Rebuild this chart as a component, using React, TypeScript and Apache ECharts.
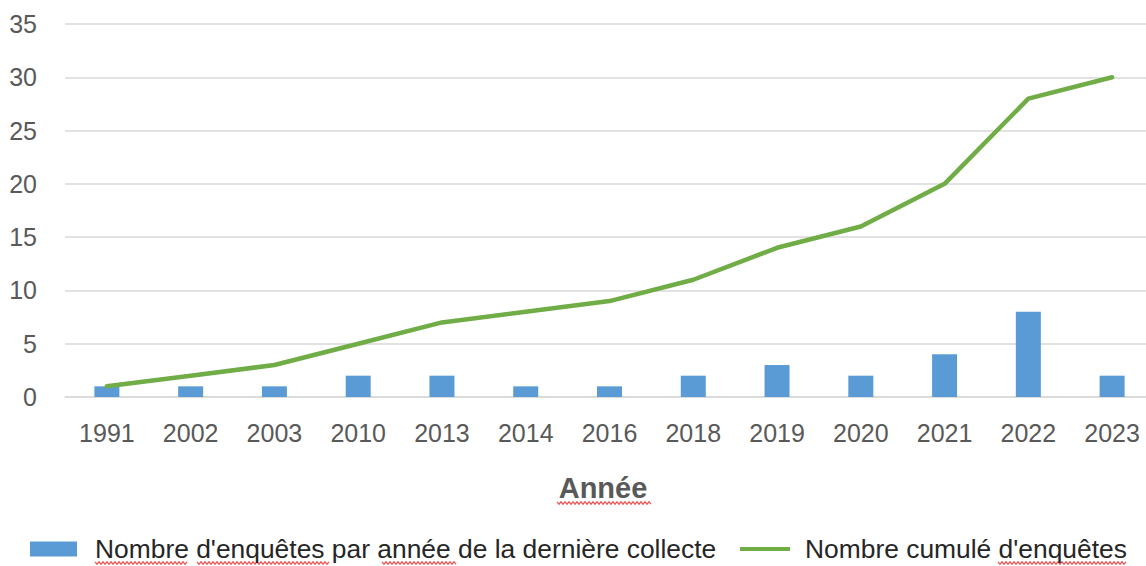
import React, { useEffect, useRef } from "react";
import * as echarts from "echarts";

const years = ["1991", "2002", "2003", "2010", "2013", "2014", "2016", "2018", "2019", "2020", "2021", "2022", "2023"];
const perYear = [1, 1, 1, 2, 2, 1, 1, 2, 3, 2, 4, 8, 2];
const cumulative = [1, 2, 3, 5, 7, 8, 9, 11, 14, 16, 20, 28, 30];
const barName = "Nombre d'enquêtes par année de la dernière collecte";
const lineName = "Nombre cumulé d'enquêtes";
const axisTitle = "Année";

// spell-check squiggle decorations: [x1, x2, y]
const squiggles: [number, number, number][] = [
  [557, 652, 503],
  [95, 188, 563],
  [197, 330, 563],
  [382, 457, 563],
  [998, 1127, 563],
];

function zigzag(x1: number, x2: number, y: number): number[][] {
  const pts: number[][] = [];
  let up = true;
  for (let x = x1; x <= x2; x += 2) {
    pts.push([x, up ? y - 1.2 : y + 1.2]);
    up = !up;
  }
  return pts;
}

export default function App() {
  const ref = useRef<HTMLDivElement>(null);
  useEffect(() => {
    document.body.style.margin = "0";
    document.body.style.overflow = "hidden";
    const chart = echarts.init(ref.current!, null, { renderer: "svg" });
    const font = "'Liberation Sans', Arial, sans-serif";
    const legendText = { color: "#262626", fontSize: 26.4, fontFamily: font };
    chart.setOption({
      animation: false,
      backgroundColor: "#ffffff",
      textStyle: { fontFamily: font },
      grid: { left: 65, top: 24, right: 0, height: 373, containLabel: false },
      xAxis: {
        type: "category",
        data: years,
        axisLine: { show: true, lineStyle: { color: "#d9d9d9", width: 1.5 } },
        axisTick: { show: false },
        axisLabel: { color: "#595959", fontSize: 25, margin: 23, fontFamily: font },
      },
      yAxis: {
        type: "value",
        min: 0,
        max: 35,
        interval: 5,
        axisLine: { show: false },
        axisTick: { show: false },
        splitLine: { lineStyle: { color: "#d9d9d9", width: 1.5 } },
        axisLabel: { color: "#595959", fontSize: 25, margin: 28, fontFamily: font },
      },
      legend: [
        {
          left: 30,
          top: 536,
          padding: 0,
          itemWidth: 47,
          itemHeight: 15,
          textStyle: { ...legendText, padding: [0, 0, 0, 13] },
          data: [{ name: barName, icon: "rect" }],
        },
        {
          left: 740,
          top: 536,
          padding: 0,
          itemWidth: 50,
          itemHeight: 4,
          textStyle: { ...legendText, padding: [0, 0, 0, 10] },
          data: [{ name: lineName, icon: "path://M0,0H50V4H0Z" }],
        },
      ],
      graphic: [
        {
          type: "text",
          x: 603,
          y: 488,
          style: {
            text: axisTitle,
            fill: "#595959",
            font: `bold 29px ${font}`,
            textAlign: "center",
            textVerticalAlign: "middle",
          },
        },
        ...squiggles.map(([x1, x2, y]) => ({
          type: "polyline",
          shape: { points: zigzag(x1, x2, y) },
          style: { stroke: "#ec5555", lineWidth: 1.2, fill: null },
          silent: true,
        })),
      ],
      series: [
        {
          name: barName,
          type: "bar",
          data: perYear,
          barWidth: 25,
          itemStyle: { color: "#5b9bd5" },
        },
        {
          name: lineName,
          type: "line",
          data: cumulative,
          symbol: "none",
          lineStyle: { color: "#70ad47", width: 4.5, cap: "round", join: "round" },
          itemStyle: { color: "#70ad47" },
        },
      ],
    });
    return () => chart.dispose();
  }, []);
  return <div ref={ref} style={{ width: 1154, height: 566 }} />;
}
